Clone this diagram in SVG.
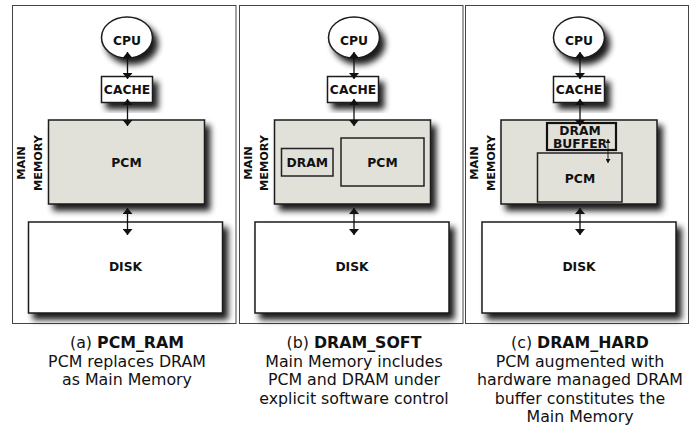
<svg xmlns="http://www.w3.org/2000/svg" width="690" height="426" viewBox="0 0 690 426">
<style>
.frame{fill:#fff;stroke:#444;stroke-width:1}
.box{stroke:#1a1a1a;stroke-width:1.5}
.white{fill:#fff}
.mem{fill:#e1e0d9}
.inner{fill:#e1e0d9;stroke:#222;stroke-width:1.5}
.thick{fill:#e1e0d9;stroke:#111;stroke-width:2.2}
.lbl{font-family:"DejaVu Sans",sans-serif;font-weight:bold;font-size:12.3px;fill:#111;text-anchor:middle}
.side{font-family:"DejaVu Sans",sans-serif;font-weight:bold;font-size:11.3px;fill:#111;text-anchor:middle}
.cap{font-family:"DejaVu Sans",sans-serif;font-size:15.8px;fill:#111;text-anchor:middle}
.cap tspan.b{font-weight:bold}
.conn line{stroke:#111;stroke-width:1.3;marker-start:url(#ah);marker-end:url(#ah)}
.conn line.small{stroke-width:0.9;marker-start:url(#sh);marker-end:url(#sh)}
</style>
<defs>
<filter id="sh0" x="-20%" y="-20%" width="150%" height="160%">
<feGaussianBlur in="SourceAlpha" stdDeviation="3.2"/>
<feOffset dx="4.5" dy="5.5" result="b"/>
<feComponentTransfer><feFuncA type="linear" slope="0.9"/></feComponentTransfer>
<feMerge><feMergeNode/><feMergeNode in="SourceGraphic"/></feMerge>
</filter>
<marker id="ah" viewBox="0 0 6 10" refX="6" refY="5" markerWidth="6" markerHeight="10" markerUnits="userSpaceOnUse" orient="auto-start-reverse">
<path d="M0,0 L6,5 L0,10 z" fill="#111"/>
</marker>
<marker id="sh" viewBox="0 0 4 5" refX="4" refY="2.5" markerWidth="4" markerHeight="5" markerUnits="userSpaceOnUse" orient="auto-start-reverse">
<path d="M0,0 L4,2.5 L0,5 z" fill="#111"/>
</marker>
</defs>

<rect class="frame" x="12.5" y="5.5" width="223.5" height="318"/>
<rect class="frame" x="239.5" y="5.5" width="223.5" height="318"/>
<rect class="frame" x="465.5" y="5.5" width="223" height="318"/>

<!-- Panel A -->
<g id="a-cpu"><ellipse class="box white" filter="url(#sh0)" cx="127" cy="37.5" rx="25.5" ry="20.5"/><text class="lbl" x="127" y="45">CPU</text></g>
<g id="a-cache"><rect class="box white" filter="url(#sh0)" x="101.5" y="76.5" width="51" height="26"/><text class="lbl" x="127" y="94">CACHE</text></g>
<g id="a-mem"><rect class="box mem" filter="url(#sh0)" x="48.5" y="120" width="156" height="84"/><text class="lbl" x="126.5" y="167">PCM</text>
<text class="side" transform="rotate(-90)" x="-163" y="25">MAIN</text><text class="side" transform="rotate(-90)" x="-163" y="41.5">MEMORY</text></g>
<g id="a-disk"><rect class="box white" filter="url(#sh0)" x="28.5" y="222" width="194" height="91"/><text class="lbl" x="125.5" y="271">DISK</text></g>
<g id="a-cap"><text class="cap" x="127" y="348">(a) <tspan class="b">PCM_RAM</tspan></text><text class="cap" x="127" y="366.5">PCM replaces DRAM</text><text class="cap" x="127" y="385">as Main Memory</text></g>

<!-- Panel B -->
<g id="b-cpu"><ellipse class="box white" filter="url(#sh0)" cx="354" cy="37.5" rx="25.5" ry="20.5"/><text class="lbl" x="354" y="45">CPU</text></g>
<g id="b-cache"><rect class="box white" filter="url(#sh0)" x="327.5" y="76.5" width="51" height="26"/><text class="lbl" x="353" y="94">CACHE</text></g>
<g id="b-mem"><rect class="box mem" filter="url(#sh0)" x="274.5" y="120" width="156" height="84"/>
<rect class="inner" x="281.5" y="148.5" width="51.5" height="27.5"/><text class="lbl" x="307.3" y="167">DRAM</text>
<rect class="inner" x="341" y="138" width="83" height="48"/><text class="lbl" x="382.5" y="167">PCM</text>
<text class="side" transform="rotate(-90)" x="-163" y="252">MAIN</text><text class="side" transform="rotate(-90)" x="-163" y="267.5">MEMORY</text></g>
<g id="b-disk"><rect class="box white" filter="url(#sh0)" x="255" y="222" width="194" height="91"/><text class="lbl" x="352" y="271">DISK</text></g>
<g id="b-cap"><text class="cap" x="354" y="348">(b) <tspan class="b">DRAM_SOFT</tspan></text><text class="cap" x="354" y="366.5">Main Memory includes</text><text class="cap" x="354" y="385">PCM and DRAM under</text><text class="cap" x="354" y="403.5">explicit software control</text></g>

<!-- Panel C -->
<g id="c-cpu"><ellipse class="box white" filter="url(#sh0)" cx="579" cy="37.5" rx="25.5" ry="20.5"/><text class="lbl" x="579" y="45">CPU</text></g>
<g id="c-cache"><rect class="box white" filter="url(#sh0)" x="553.5" y="76.5" width="51" height="26"/><text class="lbl" x="579" y="94">CACHE</text></g>
<g id="c-mem"><rect class="box mem" filter="url(#sh0)" x="501" y="120" width="156" height="84"/>
<rect class="inner" x="537.5" y="153" width="84.5" height="49"/><text class="lbl" x="580" y="183">PCM</text>
<rect class="thick" x="547" y="123" width="69" height="27"/><text class="lbl" x="580" y="134.5" style="font-size:12.3px">DRAM</text><text class="lbl" x="580" y="148" style="font-size:12.3px">BUFFER</text>
<text class="side" transform="rotate(-90)" x="-163" y="478">MAIN</text><text class="side" transform="rotate(-90)" x="-163" y="494.5">MEMORY</text></g>
<g id="c-disk"><rect class="box white" filter="url(#sh0)" x="482" y="222" width="194" height="91"/><text class="lbl" x="579" y="271">DISK</text></g>
<g id="c-cap"><text class="cap" x="580" y="348">(c) <tspan class="b">DRAM_HARD</tspan></text><text class="cap" x="580" y="366.5">PCM augmented with</text><text class="cap" x="580" y="385">hardware managed DRAM</text><text class="cap" x="580" y="403.5">buffer constitutes the</text><text class="cap" x="580" y="422">Main Memory</text></g>

<g id="connectors" class="conn">
<line x1="127.5" y1="52" x2="127.5" y2="79"/>
<line x1="127.5" y1="99" x2="127.5" y2="126"/>
<line x1="127.5" y1="208" x2="127.5" y2="235"/>
<line x1="354" y1="52" x2="354" y2="79"/>
<line x1="354" y1="99" x2="354" y2="126"/>
<line x1="354" y1="208" x2="354" y2="235"/>
<line x1="580" y1="52" x2="580" y2="79"/>
<line x1="580" y1="99" x2="580" y2="126"/>
<line x1="580" y1="208" x2="580" y2="235"/>
<line class="small" x1="608" y1="139" x2="608" y2="163"/>
</g>
</svg>
